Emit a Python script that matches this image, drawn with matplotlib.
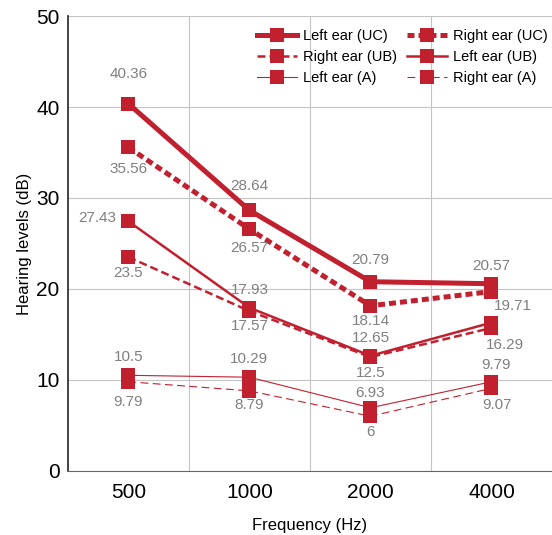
import matplotlib.pyplot as plt
import numpy as np

plt.rcParams['font.family'] = ['Liberation Sans', 'DejaVu Sans']

freqs = ['500', '1000', '2000', '4000']
left_uc = [40.36, 28.64, 20.79, 20.57]
right_uc = [35.56, 26.57, 18.14, 19.71]
left_ub = [27.43, 17.93, 12.65, 16.29]
right_ub = [23.5, 17.57, 12.5, 15.71]
left_a = [10.5, 10.29, 6.93, 9.79]
right_a = [9.79, 8.79, 6, 9.07]

red = '#c1202f'
gray = '#808080'
x = np.arange(len(freqs))

fig = plt.figure(figsize=(5.52, 5.35), dpi=100)
ax = fig.add_axes([0.123, 0.12, 0.877, 0.85])

mk = dict(color=red, marker='s', ms=9.5, mew=0)
l1, = ax.plot(x, left_uc, '-', lw=3.6, label='Left ear (UC)', **mk)
l2, = ax.plot(x, right_uc, '-', lw=3.6, label='Right ear (UC)', **mk)
l3, = ax.plot(x, right_ub, '-', lw=1.8, label='Right ear (UB)', **mk)
l4, = ax.plot(x, left_ub, '-', lw=1.8, label='Left ear (UB)', **mk)
l5, = ax.plot(x, left_a, '-', lw=0.8, label='Left ear (A)', **mk)
l6, = ax.plot(x, right_a, '-', lw=0.8, label='Right ear (A)', **mk)
l2.set_dashes([1.4, 0.8])
l3.set_dashes([3.2, 1.6])
l6.set_dashes([7, 4])


def label(vals, offs, skip=()):
    """ตัวเลขกำกับแต่ละจุด (offset เป็นพิกเซล)"""
    for i, v in enumerate(vals):
        if i in skip:
            continue
        dx, dy = offs[i]
        ax.annotate('%g' % v, (x[i], v), xytext=(dx, dy), textcoords='offset pixels',
                    ha='center', va='center', color=gray, fontsize=11)


label(left_uc, [(0, 30), (0, 24), (0, 22), (0, 18)])
label(right_uc, [(0, -22), (0, -19), (0, -15), (21, -14)])
label(left_ub, [(-31, 3), (0, 18), (0, 18), (13, -22)])
label(right_ub, [(0, -16), (0, -15), (0, -16), (0, 0)], skip=(3,))
label(left_a, [(0, 18), (0, 18), (0, 15), (5, 17)])
label(right_a, [(0, -20), (0, -14), (0, -16), (6, -17)])

ax.set_xlim(-0.5, 3.5)
ax.set_ylim(0, 50)
ax.set_yticks([0, 10, 20, 30, 40, 50])
ax.set_xticks(x)
ax.set_xticklabels(freqs)
ax.set_xticks(x[:-1] + 0.5, minor=True)
ax.grid(axis='y', which='major', color='#c4c4c4', lw=0.8)
ax.grid(axis='x', which='minor', color='#c4c4c4', lw=0.8)
ax.set_axisbelow(True)
ax.tick_params(which='both', length=0, labelsize=15)
ax.tick_params(axis='y', pad=6)
ax.tick_params(axis='x', pad=9)
for s in ['top', 'right']:
    ax.spines[s].set_visible(False)
ax.spines['left'].set_color('#222222')
ax.spines['bottom'].set_color('#666666')
ax.spines['left'].set_linewidth(1.2)
ax.set_xlabel('Frequency (Hz)', fontsize=12, labelpad=11)
ax.set_ylabel('Hearing levels (dB)', fontsize=12, labelpad=3)

ax.legend(handles=[l1, l3, l5, l2, l4, l6], ncol=2, loc='upper right', frameon=False,
          fontsize=10.5, handlelength=2.7, columnspacing=0.7, handletextpad=0.45,
          labelspacing=0.48, bbox_to_anchor=(1.01, 0.99), borderaxespad=0.2)

fig.savefig('out.png', dpi=100)
